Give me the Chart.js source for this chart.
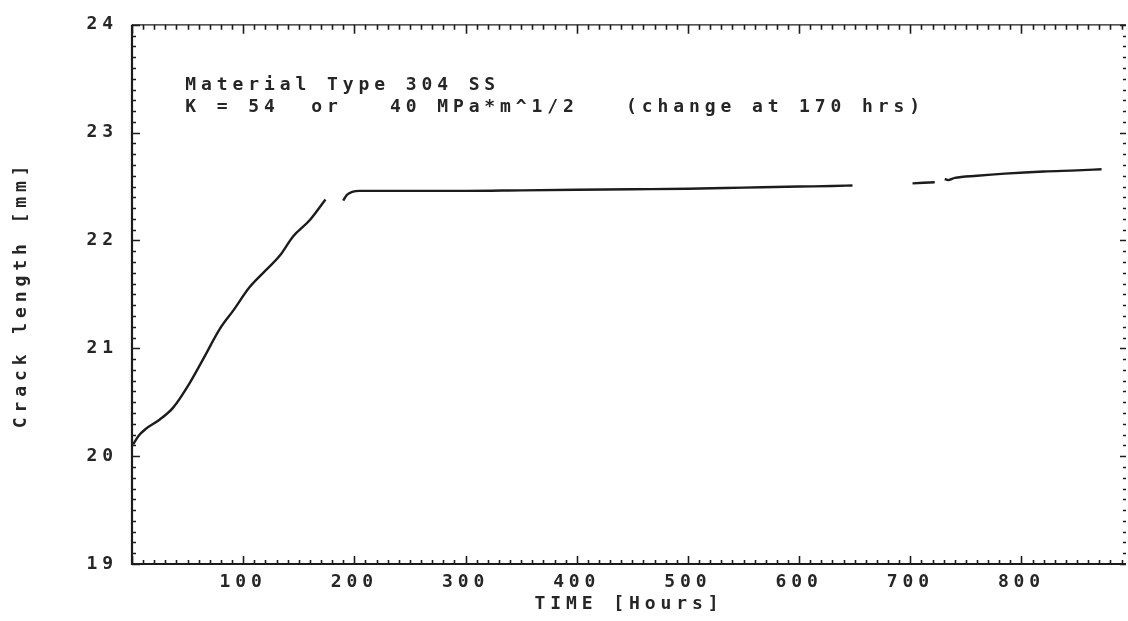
<!DOCTYPE html>
<html>
<head>
<meta charset="utf-8">
<script src="https://cdn.jsdelivr.net/npm/chart.js@4.4.1/dist/chart.umd.min.js"></script>
<style>
  html, body { margin: 0; padding: 0; background: #ffffff; }
  #wrap { width: 1128px; height: 621px; }
</style>
</head>
<body>
<div id="wrap"><canvas id="c" width="1128" height="621"></canvas></div>
<script>
const hours = [1, 6, 12, 25, 37, 52, 64, 79, 91, 106, 118, 133, 145, 160, 174,
               182,
               190, 193, 198, 205, 250, 300, 350, 400, 450, 500, 550, 600, 630, 648,
               675,
               702, 722,
               727,
               731, 734, 740, 760, 785, 820, 850, 872];
const crack = [20.11, 20.19, 20.25, 20.34, 20.45, 20.68, 20.90, 21.18, 21.35, 21.57, 21.70, 21.86, 22.04, 22.19, 22.38,
               null,
               22.37, 22.42, 22.45, 22.46, 22.46, 22.46, 22.465, 22.47, 22.475, 22.48, 22.49, 22.50, 22.505, 22.51,
               null,
               22.53, 22.54,
               null,
               22.57, 22.56, 22.58, 22.60, 22.62, 22.64, 22.65, 22.66];
const xMajorTicks = [100, 200, 300, 400, 500, 600, 700, 800];
const yMajorTicks = [19, 20, 21, 22, 23, 24];
const xTitle = 'TIME [Hours]';
const yTitle = 'Crack length [mm]';
const noteLines = ['Material Type 304 SS',
                   'K = 54  or   40 MPa*m^1/2   (change at 170 hrs)'];

const X_MIN = 0, X_MAX = 894, Y_MIN = 19, Y_MAX = 24;
const INK = '#1c1c1c';
const TEXT_INK = '#262626';
const FONT = '"DejaVu Sans Mono", "Liberation Mono", monospace';
const FSIZE = 18;
const LS = '4.9px';

const points = hours.map((h, i) => ({ x: h, y: crack[i] }));

const framePlugin = {
  id: 'frame',
  beforeDraw(chart) { chart.ctx.letterSpacing = LS; },
  afterDraw(chart) {
    const { ctx, chartArea: a, scales: { x, y } } = chart;
    ctx.save();
    ctx.strokeStyle = INK;
    ctx.lineCap = 'butt';
    // left and bottom axes
    ctx.lineWidth = 2.2;
    ctx.beginPath();
    ctx.moveTo(a.left, a.top);
    ctx.lineTo(a.left, a.bottom);
    ctx.lineTo(a.right, a.bottom);
    ctx.stroke();
    // top border
    ctx.lineWidth = 1.3;
    ctx.beginPath();
    ctx.moveTo(a.left, a.top);
    ctx.lineTo(a.right, a.top);
    ctx.stroke();
    // x ticks (bottom & top), minor every 10 h
    ctx.lineWidth = 1.6;
    for (let i = 0; i * 10 <= X_MAX; i++) {
      const v = i * 10;
      const px = Math.round(x.getPixelForValue(v)) + 0.5;
      const major = v % 100 === 0;
      ctx.beginPath();
      ctx.moveTo(px, a.bottom);
      ctx.lineTo(px, a.bottom - (major ? 8 : 4));
      ctx.moveTo(px, a.top);
      ctx.lineTo(px, a.top + (major ? 9 : 5));
      ctx.stroke();
    }
    // y ticks (left & right), minor every 0.1
    for (let i = 0; i <= (Y_MAX - Y_MIN) * 10; i++) {
      const v = Y_MIN + i / 10;
      const py = Math.round(y.getPixelForValue(v)) + 0.5;
      const major = i % 10 === 0;
      ctx.beginPath();
      ctx.moveTo(a.left, py);
      ctx.lineTo(a.left + (major ? 8 : 4), py);
      ctx.moveTo(a.right, py);
      ctx.lineTo(a.right - (major ? 6 : 3), py);
      ctx.stroke();
    }
    // annotation text
    ctx.fillStyle = TEXT_INK;
    ctx.font = 'bold ' + FSIZE + 'px ' + FONT;
    ctx.letterSpacing = LS;
    ctx.textAlign = 'left';
    ctx.textBaseline = 'alphabetic';
    const tx = x.getPixelForValue(48);
    ctx.fillText(noteLines[0], tx, y.getPixelForValue(23.40));
    ctx.fillText(noteLines[1], tx, y.getPixelForValue(23.19));
    ctx.restore();
  }
};

const axisFont = { family: FONT, size: FSIZE, weight: 'bold' };

new Chart(document.getElementById('c'), {
  type: 'line',
  data: {
    datasets: [{
      data: points,
      borderColor: INK,
      borderWidth: 2.4,
      pointRadius: 0,
      cubicInterpolationMode: 'monotone',
      spanGaps: false,
      fill: false
    }]
  },
  options: {
    responsive: false,
    animation: false,
    devicePixelRatio: 1,
    layout: { padding: { top: 20, right: 2, left: 0, bottom: 0 } },
    plugins: { legend: { display: false }, tooltip: { enabled: false } },
    scales: {
      x: {
        type: 'linear',
        min: X_MIN, max: X_MAX,
        afterFit(s) { s.height = 57; },
        afterBuildTicks(s) { s.ticks = xMajorTicks.map(v => ({ value: v })); },
        grid: { display: false, drawTicks: false },
        border: { display: false },
        ticks: {
          autoSkip: false, maxRotation: 0, minRotation: 0,
          padding: 8,
          color: TEXT_INK,
          font: axisFont,
          callback: v => String(v)
        },
        title: {
          display: true, text: xTitle, color: TEXT_INK,
          font: axisFont,
          padding: { top: 0, bottom: 6 }
        }
      },
      y: {
        type: 'linear',
        min: Y_MIN, max: Y_MAX,
        afterFit(s) { s.width = 132; },
        afterBuildTicks(s) { s.ticks = yMajorTicks.map(v => ({ value: v })); },
        grid: { display: false, drawTicks: false },
        border: { display: false },
        ticks: {
          padding: 14,
          color: TEXT_INK,
          font: axisFont,
          callback: v => String(v)
        },
        title: {
          display: true, text: yTitle, color: TEXT_INK,
          font: axisFont,
          padding: { top: 11, bottom: 0 }
        }
      }
    }
  },
  plugins: [framePlugin]
});
</script>
</body>
</html>
